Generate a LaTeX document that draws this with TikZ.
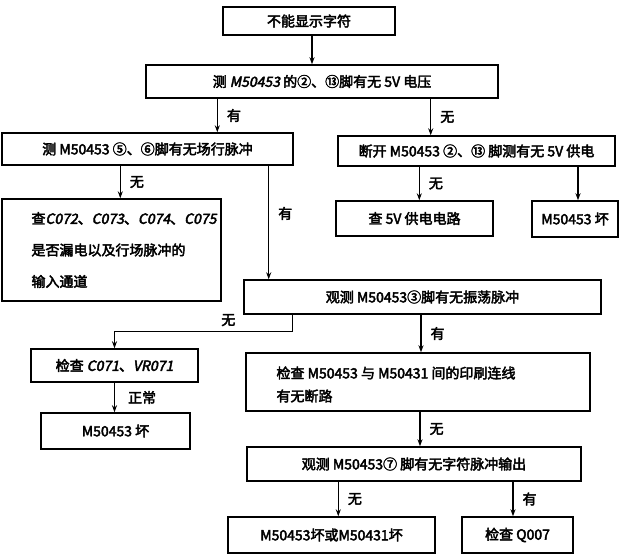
\documentclass[tikz,border=0pt]{standalone}
\usepackage{fontspec}
\setmainfont{Noto Sans CJK SC}[FakeBold=3]
\newfontfamily\slfont{Noto Sans CJK SC}[FakeSlant=0.2, FakeBold=3]
\newcommand{\slnt}[1]{{\slfont #1}}
\usepackage{tikz}
\usetikzlibrary{arrows.meta, positioning, calc}
\tikzset{
  >=Stealth,
  flowbox/.style={draw, line width=1.4pt, inner sep=2pt, font=\fontsize{14}{16}\selectfont},
  flowtext/.style={anchor=west, align=left, inner sep=0pt},
  flowarrow/.style={-{Stealth[length=7pt, width=5pt]}, line width=1.2pt},
  flowline/.style={line width=1.2pt},
  flowlabel/.style={font=\fontsize{14}{16}\selectfont, inner sep=0pt, right, xshift=9pt}
}

\begin{document}
\begin{tikzpicture}[x=1pt, y=-1pt]
    \useasboundingbox (0,0) rectangle (626,556);
    \node (start) [flowbox, minimum width=172, minimum height=28] at (309, 21) {不能显示字符};
    \node (volt) [flowbox, minimum width=352, minimum height=33] at (322, 81.5) {测 \slnt{M50453} 的②、⑬脚有无 5V 电压};
    \node (scan) [flowbox, minimum width=291, minimum height=32] at (147.5, 149) {测 M50453 ⑤、⑥脚有无场行脉冲};
    \node (cut) [flowbox, minimum width=277, minimum height=30] at (476.5, 151) {断开 M50453 ②、⑬ 脚测有无 5V 供电};
    \node (leak) [flowbox, minimum width=219, minimum height=102] at (111.5, 250) {};
    \node (leaktxt) [flowtext, font=\fontsize{14}{31.5}\selectfont] at ([xshift=30]leak.west) {查\slnt{C072}、\slnt{C073}、\slnt{C074}、\slnt{C075}\\是否漏电以及行场脉冲的\\输入通道};
    \node (supply) [flowbox, minimum width=157, minimum height=35] at (414.5, 218.5) {查 5V 供电电路};
    \node (bad1) [flowbox, minimum width=86, minimum height=36] at (575, 219) {M50453 坏};
    \node (osc) [flowbox, minimum width=357, minimum height=34] at (422.5, 297) {观测 M50453③脚有无振荡脉冲};
    \node (vr) [flowbox, minimum width=167, minimum height=33] at (114.5, 365.5) {检查 \slnt{C071}、\slnt{VR071}};
    \node (bad2) [flowbox, minimum width=149, minimum height=36] at (115.5, 431) {M50453 坏};
    \node (wire) [flowbox, minimum width=344, minimum height=58] at (418, 382) {};
    \node (wiretxt) [flowtext, font=\fontsize{14}{23}\selectfont] at ([xshift=31, yshift=-2.5]wire.west) {检查 M50453 与 M50431 间的印刷连线\\有无断路};
    \node (char) [flowbox, minimum width=334, minimum height=34] at (414, 464) {观测 M50453⑦ 脚有无字符脉冲输出};
    \node (bad3) [flowbox, minimum width=207, minimum height=36] at (331.5, 535) {M50453坏或M50431坏};
    \node (chk) [flowbox, minimum width=111, minimum height=36] at (517.5, 535) {检查 Q007};

    \draw[flowarrow] ([xshift=3]start.south) -- ([xshift=3]start.south |- volt.north);
    \draw[flowarrow] ([xshift=72]volt.south west) coordinate (v1) -- (v1 |- scan.north) node[flowlabel, midway] {有};
    \draw[flowarrow] ([xshift=-68]volt.south east) coordinate (v2) -- (v2 |- cut.north) node[flowlabel, midway] {无};
    \draw[flowarrow] ([xshift=119]scan.south west) coordinate (s1) -- (s1 |- leak.north) node[flowlabel, midway] {无};
    \draw[flowarrow] ([xshift=-25]scan.south east) coordinate (s2) -- (s2 |- osc.north) node[flowlabel, pos=0.42] {有};
    \draw[flowarrow] ([xshift=82]cut.south west) coordinate (c1) -- (c1 |- supply.north) node[flowlabel, midway] {无};
    \draw[flowarrow] ([xshift=3]bad1.north |- cut.south) -- ([xshift=3]bad1.north);
    \draw[flowarrow] ([xshift=49]osc.south west) -- ++(0,17) -| (vr.north) node[flowlabel, pos=0.205, anchor=south, xshift=0, yshift=5] {无};
    \draw[flowarrow] ([xshift=-1.5]osc.south) coordinate (o1) -- (o1 |- wire.north) node[flowlabel, midway] {有};
    \draw[flowarrow] (vr.south) -- (vr.south |- bad2.north) node[flowlabel, midway, xshift=4] {正常};
    \draw[flowarrow] ([xshift=2]wire.south) coordinate (w1) -- (w1 |- char.north) node[flowlabel, midway] {无};
    \draw[flowarrow] ([xshift=92]char.south west) coordinate (h1) -- (h1 |- bad3.north) node[flowlabel, midway] {无};
    \draw[flowarrow] ([xshift=-4.5]chk.north |- char.south) coordinate (h2) -- ([xshift=-4.5]chk.north) node[flowlabel, midway] {有};
\end{tikzpicture}
\end{document}
